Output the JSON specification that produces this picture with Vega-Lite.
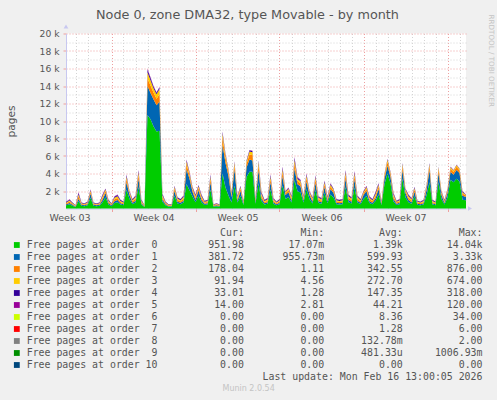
{
  "$schema": "https://vega.github.io/schema/vega-lite/v6.json",
  "width": 400,
  "height": 175,
  "autosize": "none",
  "padding": {"left": 66, "top": 33.5, "right": 31, "bottom": 191.5},
  "background": "#f0f0f0",
  "title": {
    "text": "Node 0, zone DMA32, type Movable - by month",
    "font": "DejaVu Sans", "fontSize": 12.8, "fontWeight": "normal", "color": "#555555",
    "baseline": "middle", "offset": -14, "dx": -18.5
  },
  "config": {
    "view": {"fill": "white", "stroke": null},
    "axis": {"labelFont": "DejaVu Sans", "titleFont": "DejaVu Sans", "labelColor": "#555555", "titleColor": "#555555", "titleFontWeight": "normal"}
  },
  "datasets": {
    "mem": [
      {"t": "2026-01-14T05:00", "o0": 360, "o1": 120, "o2": 120, "o3": 96, "o4": 72, "o5": 32},
      {"t": "2026-01-14T06:00", "o0": 360, "o1": 120, "o2": 120, "o3": 96, "o4": 72, "o5": 32},
      {"t": "2026-01-14T12:00", "o0": 473, "o1": 158, "o2": 158, "o3": 126, "o4": 95, "o5": 42},
      {"t": "2026-01-14T18:00", "o0": 315, "o1": 105, "o2": 105, "o3": 84, "o4": 63, "o5": 28},
      {"t": "2026-01-15T00:00", "o0": 180, "o1": 60, "o2": 60, "o3": 48, "o4": 36, "o5": 16},
      {"t": "2026-01-15T06:00", "o0": 833, "o1": 278, "o2": 278, "o3": 222, "o4": 167, "o5": 74},
      {"t": "2026-01-15T12:00", "o0": 315, "o1": 105, "o2": 105, "o3": 84, "o4": 63, "o5": 28},
      {"t": "2026-01-15T18:00", "o0": 270, "o1": 90, "o2": 90, "o3": 72, "o4": 54, "o5": 24},
      {"t": "2026-01-16T00:00", "o0": 360, "o1": 120, "o2": 120, "o3": 96, "o4": 72, "o5": 32},
      {"t": "2026-01-16T06:00", "o0": 1210, "o1": 484, "o2": 220, "o3": 154, "o4": 88, "o5": 44},
      {"t": "2026-01-16T12:00", "o0": 315, "o1": 105, "o2": 105, "o3": 84, "o4": 63, "o5": 28},
      {"t": "2026-01-16T18:00", "o0": 270, "o1": 90, "o2": 90, "o3": 72, "o4": 54, "o5": 24},
      {"t": "2026-01-17T00:00", "o0": 315, "o1": 105, "o2": 105, "o3": 84, "o4": 63, "o5": 28},
      {"t": "2026-01-17T06:00", "o0": 720, "o1": 240, "o2": 240, "o3": 192, "o4": 144, "o5": 64},
      {"t": "2026-01-17T12:00", "o0": 1265, "o1": 506, "o2": 230, "o3": 161, "o4": 92, "o5": 46},
      {"t": "2026-01-17T18:00", "o0": 450, "o1": 150, "o2": 150, "o3": 120, "o4": 90, "o5": 40},
      {"t": "2026-01-18T00:00", "o0": 270, "o1": 90, "o2": 90, "o3": 72, "o4": 54, "o5": 24},
      {"t": "2026-01-18T06:00", "o0": 630, "o1": 210, "o2": 210, "o3": 168, "o4": 126, "o5": 56},
      {"t": "2026-01-18T12:00", "o0": 720, "o1": 240, "o2": 240, "o3": 192, "o4": 144, "o5": 64},
      {"t": "2026-01-18T18:00", "o0": 450, "o1": 150, "o2": 150, "o3": 120, "o4": 90, "o5": 40},
      {"t": "2026-01-19T00:00", "o0": 360, "o1": 120, "o2": 120, "o3": 96, "o4": 72, "o5": 32},
      {"t": "2026-01-19T06:00", "o0": 2145, "o1": 858, "o2": 390, "o3": 273, "o4": 156, "o5": 78},
      {"t": "2026-01-19T12:00", "o0": 1100, "o1": 440, "o2": 200, "o3": 140, "o4": 80, "o5": 40},
      {"t": "2026-01-19T18:00", "o0": 495, "o1": 165, "o2": 165, "o3": 132, "o4": 99, "o5": 44},
      {"t": "2026-01-20T00:00", "o0": 675, "o1": 225, "o2": 225, "o3": 180, "o4": 135, "o5": 60},
      {"t": "2026-01-20T06:00", "o0": 2420, "o1": 968, "o2": 440, "o3": 308, "o4": 176, "o5": 88},
      {"t": "2026-01-20T12:00", "o0": 450, "o1": 150, "o2": 150, "o3": 120, "o4": 90, "o5": 40},
      {"t": "2026-01-20T18:00", "o0": 180, "o1": 60, "o2": 60, "o3": 48, "o4": 36, "o5": 16},
      {"t": "2026-01-21T00:00", "o0": 10700, "o1": 3300, "o2": 870, "o3": 670, "o4": 310, "o5": 120},
      {"t": "2026-01-21T06:00", "o0": 10200, "o1": 3000, "o2": 850, "o3": 600, "o4": 260, "o5": 100},
      {"t": "2026-01-21T12:00", "o0": 9400, "o1": 3100, "o2": 750, "o3": 500, "o4": 180, "o5": 70},
      {"t": "2026-01-21T18:00", "o0": 8800, "o1": 3000, "o2": 750, "o3": 520, "o4": 170, "o5": 60},
      {"t": "2026-01-22T00:00", "o0": 8900, "o1": 3300, "o2": 850, "o3": 600, "o4": 190, "o5": 60},
      {"t": "2026-01-22T06:00", "o0": 765, "o1": 255, "o2": 255, "o3": 204, "o4": 153, "o5": 68},
      {"t": "2026-01-22T12:00", "o0": 360, "o1": 120, "o2": 120, "o3": 96, "o4": 72, "o5": 32},
      {"t": "2026-01-22T18:00", "o0": 225, "o1": 75, "o2": 75, "o3": 60, "o4": 45, "o5": 20},
      {"t": "2026-01-23T00:00", "o0": 225, "o1": 75, "o2": 75, "o3": 60, "o4": 45, "o5": 20},
      {"t": "2026-01-23T06:00", "o0": 1430, "o1": 572, "o2": 260, "o3": 182, "o4": 104, "o5": 52},
      {"t": "2026-01-23T12:00", "o0": 585, "o1": 195, "o2": 195, "o3": 156, "o4": 117, "o5": 52},
      {"t": "2026-01-23T18:00", "o0": 495, "o1": 165, "o2": 165, "o3": 132, "o4": 99, "o5": 44},
      {"t": "2026-01-24T00:00", "o0": 675, "o1": 225, "o2": 225, "o3": 180, "o4": 135, "o5": 60},
      {"t": "2026-01-24T06:00", "o0": 2800, "o1": 1700, "o2": 560, "o3": 300, "o4": 160, "o5": 80},
      {"t": "2026-01-24T12:00", "o0": 2100, "o1": 1300, "o2": 400, "o3": 240, "o4": 110, "o5": 50},
      {"t": "2026-01-24T18:00", "o0": 1375, "o1": 550, "o2": 250, "o3": 175, "o4": 100, "o5": 50},
      {"t": "2026-01-25T00:00", "o0": 720, "o1": 240, "o2": 240, "o3": 192, "o4": 144, "o5": 64},
      {"t": "2026-01-25T06:00", "o0": 1485, "o1": 594, "o2": 270, "o3": 189, "o4": 108, "o5": 54},
      {"t": "2026-01-25T12:00", "o0": 720, "o1": 240, "o2": 240, "o3": 192, "o4": 144, "o5": 64},
      {"t": "2026-01-25T18:00", "o0": 405, "o1": 135, "o2": 135, "o3": 108, "o4": 81, "o5": 36},
      {"t": "2026-01-26T00:00", "o0": 450, "o1": 150, "o2": 150, "o3": 120, "o4": 90, "o5": 40},
      {"t": "2026-01-26T06:00", "o0": 2145, "o1": 858, "o2": 390, "o3": 273, "o4": 156, "o5": 78},
      {"t": "2026-01-26T12:00", "o0": 225, "o1": 75, "o2": 75, "o3": 60, "o4": 45, "o5": 20},
      {"t": "2026-01-26T18:00", "o0": 270, "o1": 90, "o2": 90, "o3": 72, "o4": 54, "o5": 24},
      {"t": "2026-01-27T00:00", "o0": 225, "o1": 75, "o2": 75, "o3": 60, "o4": 45, "o5": 20},
      {"t": "2026-01-27T06:00", "o0": 4000, "o1": 3300, "o2": 800, "o3": 450, "o4": 180, "o5": 70},
      {"t": "2026-01-27T12:00", "o0": 2400, "o1": 2800, "o2": 600, "o3": 320, "o4": 130, "o5": 50},
      {"t": "2026-01-27T18:00", "o0": 1500, "o1": 2200, "o2": 420, "o3": 230, "o4": 100, "o5": 50},
      {"t": "2026-01-28T00:00", "o0": 700, "o1": 600, "o2": 250, "o3": 180, "o4": 120, "o5": 50},
      {"t": "2026-01-28T06:00", "o0": 2600, "o1": 1900, "o2": 450, "o3": 280, "o4": 120, "o5": 50},
      {"t": "2026-01-28T12:00", "o0": 675, "o1": 225, "o2": 225, "o3": 180, "o4": 135, "o5": 60},
      {"t": "2026-01-28T18:00", "o0": 1430, "o1": 572, "o2": 260, "o3": 182, "o4": 104, "o5": 52},
      {"t": "2026-01-29T00:00", "o0": 405, "o1": 135, "o2": 135, "o3": 108, "o4": 81, "o5": 36},
      {"t": "2026-01-29T06:00", "o0": 3600, "o1": 1100, "o2": 400, "o3": 250, "o4": 110, "o5": 40},
      {"t": "2026-01-29T12:00", "o0": 4200, "o1": 1400, "o2": 600, "o3": 320, "o4": 130, "o5": 50},
      {"t": "2026-01-29T18:00", "o0": 4200, "o1": 1300, "o2": 600, "o3": 320, "o4": 130, "o5": 50},
      {"t": "2026-01-30T00:00", "o0": 540, "o1": 180, "o2": 180, "o3": 144, "o4": 108, "o5": 48},
      {"t": "2026-01-30T06:00", "o0": 2900, "o1": 1500, "o2": 600, "o3": 320, "o4": 130, "o5": 50},
      {"t": "2026-01-30T12:00", "o0": 855, "o1": 285, "o2": 285, "o3": 228, "o4": 171, "o5": 76},
      {"t": "2026-01-30T18:00", "o0": 450, "o1": 150, "o2": 150, "o3": 120, "o4": 90, "o5": 40},
      {"t": "2026-01-31T00:00", "o0": 540, "o1": 180, "o2": 180, "o3": 144, "o4": 108, "o5": 48},
      {"t": "2026-01-31T06:00", "o0": 2145, "o1": 858, "o2": 390, "o3": 273, "o4": 156, "o5": 78},
      {"t": "2026-01-31T12:00", "o0": 540, "o1": 180, "o2": 180, "o3": 144, "o4": 108, "o5": 48},
      {"t": "2026-01-31T18:00", "o0": 360, "o1": 120, "o2": 120, "o3": 96, "o4": 72, "o5": 32},
      {"t": "2026-02-01T00:00", "o0": 495, "o1": 165, "o2": 165, "o3": 132, "o4": 99, "o5": 44},
      {"t": "2026-02-01T06:00", "o0": 2640, "o1": 1056, "o2": 480, "o3": 336, "o4": 192, "o5": 96},
      {"t": "2026-02-01T12:00", "o0": 1100, "o1": 440, "o2": 200, "o3": 140, "o4": 80, "o5": 40},
      {"t": "2026-02-01T18:00", "o0": 1320, "o1": 528, "o2": 240, "o3": 168, "o4": 96, "o5": 48},
      {"t": "2026-02-02T00:00", "o0": 675, "o1": 225, "o2": 225, "o3": 180, "o4": 135, "o5": 60},
      {"t": "2026-02-02T06:00", "o0": 3245, "o1": 1298, "o2": 590, "o3": 413, "o4": 236, "o5": 118},
      {"t": "2026-02-02T12:00", "o0": 1980, "o1": 792, "o2": 360, "o3": 252, "o4": 144, "o5": 72},
      {"t": "2026-02-02T18:00", "o0": 1815, "o1": 726, "o2": 330, "o3": 231, "o4": 132, "o5": 66},
      {"t": "2026-02-03T00:00", "o0": 675, "o1": 225, "o2": 225, "o3": 180, "o4": 135, "o5": 60},
      {"t": "2026-02-03T06:00", "o0": 2200, "o1": 880, "o2": 400, "o3": 280, "o4": 160, "o5": 80},
      {"t": "2026-02-03T12:00", "o0": 1100, "o1": 440, "o2": 200, "o3": 140, "o4": 80, "o5": 40},
      {"t": "2026-02-03T18:00", "o0": 585, "o1": 195, "o2": 195, "o3": 156, "o4": 117, "o5": 52},
      {"t": "2026-02-04T00:00", "o0": 2090, "o1": 836, "o2": 380, "o3": 266, "o4": 152, "o5": 76},
      {"t": "2026-02-04T06:00", "o0": 630, "o1": 210, "o2": 210, "o3": 168, "o4": 126, "o5": 56},
      {"t": "2026-02-04T12:00", "o0": 540, "o1": 180, "o2": 180, "o3": 144, "o4": 108, "o5": 48},
      {"t": "2026-02-04T18:00", "o0": 1760, "o1": 704, "o2": 320, "o3": 224, "o4": 128, "o5": 64},
      {"t": "2026-02-05T00:00", "o0": 630, "o1": 210, "o2": 210, "o3": 168, "o4": 126, "o5": 56},
      {"t": "2026-02-05T06:00", "o0": 1595, "o1": 638, "o2": 290, "o3": 203, "o4": 116, "o5": 58},
      {"t": "2026-02-05T12:00", "o0": 1265, "o1": 506, "o2": 230, "o3": 161, "o4": 92, "o5": 46},
      {"t": "2026-02-05T18:00", "o0": 495, "o1": 165, "o2": 165, "o3": 132, "o4": 99, "o5": 44},
      {"t": "2026-02-06T00:00", "o0": 450, "o1": 150, "o2": 150, "o3": 120, "o4": 90, "o5": 40},
      {"t": "2026-02-06T06:00", "o0": 495, "o1": 165, "o2": 165, "o3": 132, "o4": 99, "o5": 44},
      {"t": "2026-02-06T12:00", "o0": 2420, "o1": 968, "o2": 440, "o3": 308, "o4": 176, "o5": 88},
      {"t": "2026-02-06T18:00", "o0": 720, "o1": 240, "o2": 240, "o3": 192, "o4": 144, "o5": 64},
      {"t": "2026-02-07T00:00", "o0": 585, "o1": 195, "o2": 195, "o3": 156, "o4": 117, "o5": 52},
      {"t": "2026-02-07T06:00", "o0": 2365, "o1": 946, "o2": 430, "o3": 301, "o4": 172, "o5": 86},
      {"t": "2026-02-07T12:00", "o0": 675, "o1": 225, "o2": 225, "o3": 180, "o4": 135, "o5": 60},
      {"t": "2026-02-07T18:00", "o0": 495, "o1": 165, "o2": 165, "o3": 132, "o4": 99, "o5": 44},
      {"t": "2026-02-08T00:00", "o0": 1100, "o1": 440, "o2": 200, "o3": 140, "o4": 80, "o5": 40},
      {"t": "2026-02-08T06:00", "o0": 1430, "o1": 572, "o2": 260, "o3": 182, "o4": 104, "o5": 52},
      {"t": "2026-02-08T12:00", "o0": 630, "o1": 210, "o2": 210, "o3": 168, "o4": 126, "o5": 56},
      {"t": "2026-02-08T18:00", "o0": 495, "o1": 165, "o2": 165, "o3": 132, "o4": 99, "o5": 44},
      {"t": "2026-02-09T00:00", "o0": 855, "o1": 285, "o2": 285, "o3": 228, "o4": 171, "o5": 76},
      {"t": "2026-02-09T06:00", "o0": 1595, "o1": 638, "o2": 290, "o3": 203, "o4": 116, "o5": 58},
      {"t": "2026-02-09T12:00", "o0": 405, "o1": 135, "o2": 135, "o3": 108, "o4": 81, "o5": 36},
      {"t": "2026-02-09T18:00", "o0": 2800, "o1": 600, "o2": 300, "o3": 180, "o4": 90, "o5": 30},
      {"t": "2026-02-10T00:00", "o0": 4000, "o1": 900, "o2": 420, "o3": 240, "o4": 100, "o5": 40},
      {"t": "2026-02-10T06:00", "o0": 2900, "o1": 700, "o2": 320, "o3": 180, "o4": 70, "o5": 30},
      {"t": "2026-02-10T12:00", "o0": 810, "o1": 270, "o2": 270, "o3": 216, "o4": 162, "o5": 72},
      {"t": "2026-02-10T18:00", "o0": 405, "o1": 135, "o2": 135, "o3": 108, "o4": 81, "o5": 36},
      {"t": "2026-02-11T00:00", "o0": 495, "o1": 165, "o2": 165, "o3": 132, "o4": 99, "o5": 44},
      {"t": "2026-02-11T06:00", "o0": 3400, "o1": 1000, "o2": 420, "o3": 230, "o4": 110, "o5": 40},
      {"t": "2026-02-11T12:00", "o0": 1265, "o1": 506, "o2": 230, "o3": 161, "o4": 92, "o5": 46},
      {"t": "2026-02-11T18:00", "o0": 720, "o1": 240, "o2": 240, "o3": 192, "o4": 144, "o5": 64},
      {"t": "2026-02-12T00:00", "o0": 540, "o1": 180, "o2": 180, "o3": 144, "o4": 108, "o5": 48},
      {"t": "2026-02-12T06:00", "o0": 1375, "o1": 550, "o2": 250, "o3": 175, "o4": 100, "o5": 50},
      {"t": "2026-02-12T12:00", "o0": 405, "o1": 135, "o2": 135, "o3": 108, "o4": 81, "o5": 36},
      {"t": "2026-02-12T18:00", "o0": 360, "o1": 120, "o2": 120, "o3": 96, "o4": 72, "o5": 32},
      {"t": "2026-02-13T00:00", "o0": 450, "o1": 150, "o2": 150, "o3": 120, "o4": 90, "o5": 40},
      {"t": "2026-02-13T06:00", "o0": 1485, "o1": 594, "o2": 270, "o3": 189, "o4": 108, "o5": 54},
      {"t": "2026-02-13T12:00", "o0": 3000, "o1": 1400, "o2": 420, "o3": 230, "o4": 110, "o5": 40},
      {"t": "2026-02-13T18:00", "o0": 450, "o1": 150, "o2": 150, "o3": 120, "o4": 90, "o5": 40},
      {"t": "2026-02-14T00:00", "o0": 360, "o1": 120, "o2": 120, "o3": 96, "o4": 72, "o5": 32},
      {"t": "2026-02-14T06:00", "o0": 3000, "o1": 1100, "o2": 380, "o3": 200, "o4": 90, "o5": 30},
      {"t": "2026-02-14T12:00", "o0": 1100, "o1": 440, "o2": 200, "o3": 140, "o4": 80, "o5": 40},
      {"t": "2026-02-14T18:00", "o0": 450, "o1": 150, "o2": 150, "o3": 120, "o4": 90, "o5": 40},
      {"t": "2026-02-15T00:00", "o0": 1265, "o1": 506, "o2": 230, "o3": 161, "o4": 92, "o5": 46},
      {"t": "2026-02-15T06:00", "o0": 3300, "o1": 900, "o2": 340, "o3": 170, "o4": 70, "o5": 20},
      {"t": "2026-02-15T12:00", "o0": 3000, "o1": 850, "o2": 320, "o3": 160, "o4": 50, "o5": 20},
      {"t": "2026-02-15T18:00", "o0": 3400, "o1": 1000, "o2": 360, "o3": 170, "o4": 50, "o5": 20},
      {"t": "2026-02-16T00:00", "o0": 3100, "o1": 950, "o2": 330, "o3": 150, "o4": 50, "o5": 20},
      {"t": "2026-02-16T06:00", "o0": 1000, "o1": 450, "o2": 260, "o3": 160, "o4": 90, "o5": 40},
      {"t": "2026-02-16T12:00", "o0": 952, "o1": 382, "o2": 178, "o3": 92, "o4": 33, "o5": 14},
      {"t": "2026-02-16T13:00", "o0": 952, "o1": 382, "o2": 178, "o3": 92, "o4": 33, "o5": 14}
    ],
    "legend": [
      {"row": -1, "cur": "Cur:\u00a0\u00a0", "min": "Min:\u00a0\u00a0", "avg": "Avg:\u00a0\u00a0", "max": "Max:\u00a0\u00a0"},
      {"row": 0, "series": "o0", "label": "Free pages at order\u00a0\u00a00", "cur": "951.98\u00a0", "min": "17.07m", "avg": "1.39k", "max": "14.04k"},
      {"row": 1, "series": "o1", "label": "Free pages at order\u00a0\u00a01", "cur": "381.72\u00a0", "min": "955.73m", "avg": "599.93\u00a0", "max": "3.33k"},
      {"row": 2, "series": "o2", "label": "Free pages at order\u00a0\u00a02", "cur": "178.04\u00a0", "min": "1.11\u00a0", "avg": "342.55\u00a0", "max": "876.00\u00a0"},
      {"row": 3, "series": "o3", "label": "Free pages at order\u00a0\u00a03", "cur": "91.94\u00a0", "min": "4.56\u00a0", "avg": "272.70\u00a0", "max": "674.00\u00a0"},
      {"row": 4, "series": "o4", "label": "Free pages at order\u00a0\u00a04", "cur": "33.01\u00a0", "min": "1.28\u00a0", "avg": "147.35\u00a0", "max": "318.00\u00a0"},
      {"row": 5, "series": "o5", "label": "Free pages at order\u00a0\u00a05", "cur": "14.00\u00a0", "min": "2.81\u00a0", "avg": "44.21\u00a0", "max": "120.00\u00a0"},
      {"row": 6, "series": "o6", "label": "Free pages at order\u00a0\u00a06", "cur": "0.00\u00a0", "min": "0.00\u00a0", "avg": "8.36\u00a0", "max": "34.00\u00a0"},
      {"row": 7, "series": "o7", "label": "Free pages at order\u00a0\u00a07", "cur": "0.00\u00a0", "min": "0.00\u00a0", "avg": "1.28\u00a0", "max": "6.00\u00a0"},
      {"row": 8, "series": "o8", "label": "Free pages at order\u00a0\u00a08", "cur": "0.00\u00a0", "min": "0.00\u00a0", "avg": "132.78m", "max": "2.00\u00a0"},
      {"row": 9, "series": "o9", "label": "Free pages at order\u00a0\u00a09", "cur": "0.00\u00a0", "min": "0.00\u00a0", "avg": "481.33u", "max": "1006.93m"},
      {"row": 10, "series": "o10", "label": "Free pages at order\u00a010", "cur": "0.00\u00a0", "min": "0.00\u00a0", "avg": "0.00\u00a0", "max": "0.00\u00a0"},
      {"row": 11, "max": "Last update: Mon Feb 16 13:00:05 2026"},
      {"row": 12, "note": "Munin 2.0.54"}
    ]
  },
  "layer": [
    {
      "data": {"name": "mem"},
      "transform": [{"fold": ["o0", "o1", "o2", "o3", "o4", "o5"], "as": ["series", "pages"]}],
      "layer": [
        {
          "mark": {"type": "point", "opacity": 0},
          "encoding": {
            "x": {
              "field": "t", "type": "temporal",
              "scale": {"domain": [{"year": 2026, "month": 1, "date": 14, "hours": 5}, {"year": 2026, "month": 2, "date": 16, "hours": 13}]},
              "axis": {
                "orient": "bottom",
                "grid": true, "gridColor": "#d4d4d4", "gridDash": [1, 2],
                "gridOpacity": {"condition": {"test": "day(datum.value) === 0", "value": 0}, "value": 1},
                "tickCount": {"interval": "day", "step": 1},
                "labels": false, "ticks": false, "domain": false, "title": null
              }
            },
            "y": {
              "field": "pages", "type": "quantitative",
              "scale": {"domain": [0, 20000], "nice": false},
              "axis": {
                "orient": "right",
                "values": [1000, 3000, 5000, 7000, 9000, 11000, 13000, 15000, 17000, 19000],
                "grid": true, "gridColor": "#d4d4d4", "gridDash": [1, 2],
                "labels": false, "ticks": false, "domain": false,
                "title": "RRDTOOL / TOBI OETIKER",
                "titleAngle": 90, "titleAlign": "left", "titleBaseline": "middle",
                "titleX": 24, "titleY": -19.5, "titleFontSize": 7.2, "titleColor": "#c4c4c4"
              }
            }
          }
        },
        {
          "mark": {"type": "point", "opacity": 0},
          "encoding": {
            "x": {
              "field": "t", "type": "temporal",
              "axis": {
                "orient": "bottom",
                "grid": true, "gridColor": "#eea0a0", "gridDash": [1, 2],
                "values": [
                  {"year": 2026, "month": 1, "date": 18},
                  {"year": 2026, "month": 1, "date": 25},
                  {"year": 2026, "month": 2, "date": 1},
                  {"year": 2026, "month": 2, "date": 8},
                  {"year": 2026, "month": 2, "date": 15}
                ],
                "labels": false, "ticks": true, "tickSize": 3, "tickColor": "#eea0a0",
                "domain": false, "title": null
              }
            },
            "y": {
              "field": "pages", "type": "quantitative",
              "axis": {
                "orient": "left",
                "values": [2000, 4000, 6000, 8000, 10000, 12000, 14000, 16000, 18000, 20000],
                "grid": true, "gridColor": "#eea0a0", "gridDash": [1, 2],
                "labelExpr": "datum.value / 1000 + ' k'",
                "labelFontSize": 9.2, "labelPadding": 4,
                "ticks": true, "tickSize": 3, "tickColor": "#eea0a0",
                "domain": false,
                "title": "pages", "titleFontSize": 10.6,
                "titleX": -55, "titleY": 87.5, "titleAngle": 270, "titleBaseline": "middle", "titleAlign": "center"
              }
            }
          }
        },
        {
          "mark": {"type": "area", "interpolate": "linear"},
          "encoding": {
            "x": {
              "field": "t", "type": "temporal",
              "axis": {
                "orient": "bottom",
                "values": [
                  {"year": 2026, "month": 1, "date": 14, "hours": 12},
                  {"year": 2026, "month": 1, "date": 21, "hours": 12},
                  {"year": 2026, "month": 1, "date": 28, "hours": 12},
                  {"year": 2026, "month": 2, "date": 4, "hours": 12},
                  {"year": 2026, "month": 2, "date": 11, "hours": 12}
                ],
                "format": "Week %V", "labelFontSize": 9.5, "labelPadding": 4,
                "labelFlush": false, "labelOverlap": false,
                "ticks": false, "grid": false,
                "domain": true, "domainColor": "#c8c8f0", "title": null
              }
            },
            "y": {
              "field": "pages", "type": "quantitative", "stack": "zero",
              "axis": {"orient": "left", "grid": false, "labels": false, "ticks": false, "domain": true, "domainColor": "#c8c8f0", "title": null}
            },
            "color": {
              "field": "series", "type": "nominal",
              "scale": {
                "domain": ["o0", "o1", "o2", "o3", "o4", "o5", "o6", "o7", "o8", "o9", "o10"],
                "range": ["#00CC00", "#0066B3", "#FF8000", "#FFCC00", "#330099", "#990099", "#CCFF00", "#FF0000", "#808080", "#008F00", "#00487D"]
              },
              "legend": null
            },
            "order": {"field": "series", "sort": "ascending"}
          }
        },
        {
          "data": {"values": [{"arrow": "up"}]},
          "mark": {"type": "point", "shape": "triangle-up", "size": 22, "filled": true, "color": "#c8c8f0", "opacity": 1},
          "encoding": {
            "x": {"datum": {"year": 2026, "month": 1, "date": 14, "hours": 5}, "type": "temporal", "axis": null},
            "y": {"datum": 20800, "type": "quantitative", "axis": null}
          }
        },
        {
          "data": {"values": [{"arrow": "right"}]},
          "mark": {"type": "point", "shape": "triangle-right", "size": 22, "filled": true, "color": "#c8c8f0", "opacity": 1},
          "encoding": {
            "x": {"datum": {"year": 2026, "month": 2, "date": 16, "hours": 21}, "type": "temporal", "axis": null},
            "y": {"datum": 0, "type": "quantitative", "axis": null}
          }
        }
      ],
      "resolve": {"axis": {"x": "independent", "y": "independent"}}
    },
    {
      "data": {"name": "legend"},
      "encoding": {
        "y": {"field": "row", "type": "quantitative", "scale": {"domain": [-1, 12], "range": [199.5, 355.5], "zero": false, "nice": false}, "axis": null}
      },
      "layer": [
        {
          "transform": [{"filter": "isValid(datum.series)"}],
          "mark": {"type": "square", "size": 34, "filled": true, "opacity": 1},
          "encoding": {
            "x": {"datum": -1.66, "type": "quantitative", "scale": {"domain": [0, 80], "range": [-39.3, 436.7], "zero": false, "nice": false}, "axis": null},
            "color": {"field": "series", "type": "nominal", "legend": null}
          }
        },
        {
          "transform": [{"filter": "isValid(datum.label)"}],
          "mark": {"type": "text", "align": "left", "baseline": "middle", "font": "DejaVu Sans Mono", "fontSize": 9.9, "fill": "#555555"},
          "encoding": {
            "x": {"datum": 0, "type": "quantitative", "axis": null},
            "text": {"field": "label"}
          }
        },
        {
          "transform": [{"filter": "isValid(datum.cur)"}],
          "mark": {"type": "text", "align": "right", "baseline": "middle", "font": "DejaVu Sans Mono", "fontSize": 9.9, "fill": "#555555"},
          "encoding": {
            "x": {"datum": 36.5, "type": "quantitative", "axis": null},
            "text": {"field": "cur"}
          }
        },
        {
          "transform": [{"filter": "isValid(datum.min)"}],
          "mark": {"type": "text", "align": "right", "baseline": "middle", "font": "DejaVu Sans Mono", "fontSize": 9.9, "fill": "#555555"},
          "encoding": {
            "x": {"datum": 50, "type": "quantitative", "axis": null},
            "text": {"field": "min"}
          }
        },
        {
          "transform": [{"filter": "isValid(datum.avg)"}],
          "mark": {"type": "text", "align": "right", "baseline": "middle", "font": "DejaVu Sans Mono", "fontSize": 9.9, "fill": "#555555"},
          "encoding": {
            "x": {"datum": 63.2, "type": "quantitative", "axis": null},
            "text": {"field": "avg"}
          }
        },
        {
          "transform": [{"filter": "isValid(datum.max)"}],
          "mark": {"type": "text", "align": "right", "baseline": "middle", "font": "DejaVu Sans Mono", "fontSize": 9.9, "fill": "#555555"},
          "encoding": {
            "x": {"datum": 76.6, "type": "quantitative", "axis": null},
            "text": {"field": "max"}
          }
        },
        {
          "transform": [{"filter": "isValid(datum.note)"}],
          "mark": {"type": "text", "align": "center", "baseline": "middle", "font": "DejaVu Sans", "fontSize": 8, "fill": "#c4c4c4"},
          "encoding": {
            "x": {"datum": 37.3, "type": "quantitative", "axis": null},
            "text": {"field": "note"}
          }
        }
      ]
    }
  ],
  "resolve": {"scale": {"x": "independent", "y": "independent"}}
}
